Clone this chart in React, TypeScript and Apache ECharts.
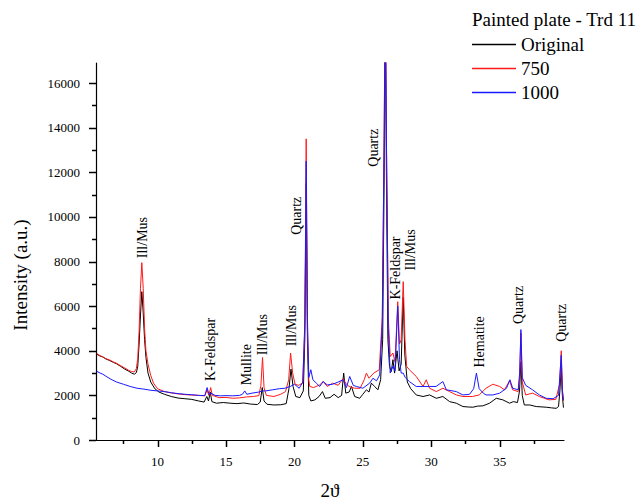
import React, { useEffect, useRef } from "react";
import * as echarts from "echarts";

// 2θ (deg), intensity (a.u.)
const originalData: number[][] = [
  [5.55,3850],[5.8,3760],[6.0,3720],[6.2,3640],[6.5,3560],[6.8,3470],[7.0,3420],[7.3,3300],[7.6,3180],[7.9,3080],[8.1,3000],[8.3,2950],[8.45,3020],[8.55,3300],[8.65,4300],[8.75,5600],[8.85,6650],[8.95,5700],[9.05,4500],[9.15,3700],[9.3,3000],[9.5,2600],[9.8,2300],[10.1,2150],[10.5,2050],[11.0,1950],[11.5,1880],[12.0,1850],[12.5,1820],[13.0,1750],[13.4,1700],[13.6,1950],[13.72,1750],[13.85,2150],[13.97,1720],[14.3,1650],[14.8,1680],[15.3,1650],[15.8,1630],[16.3,1660],[16.8,1610],[17.3,1590],[17.5,1700],[17.65,2350],[17.78,1750],[18.0,1600],[18.5,1570],[19.0,1580],[19.4,1630],[19.6,2300],[19.75,3180],[19.9,2400],[20.1,1950],[20.4,1900],[20.65,2200],[20.76,4500],[20.86,11500],[20.95,4500],[21.05,2000],[21.2,1750],[21.5,1800],[21.8,1950],[22.05,2170],[22.25,1870],[22.6,1900],[22.9,2050],[23.2,1900],[23.45,2000],[23.6,3000],[23.75,2100],[24.0,2150],[24.17,2400],[24.4,1950],[24.77,1870],[25.0,2050],[25.26,2250],[25.45,2150],[25.62,2550],[25.86,2400],[26.1,2250],[26.3,2700],[26.45,4500],[26.56,12000],[26.64,19000],[26.72,12000],[26.83,4500],[26.95,3300],[27.08,3070],[27.2,3600],[27.32,3000],[27.5,4000],[27.65,3100],[27.8,3400],[27.95,6400],[28.07,3800],[28.25,2600],[28.5,2300],[28.9,2020],[29.4,1950],[29.88,2020],[30.37,1870],[30.85,1950],[31.34,1720],[31.83,1650],[32.31,1500],[32.7,1480],[33.04,1470],[33.4,1520],[33.77,1530],[34.26,1650],[34.75,1870],[35.23,1800],[35.72,1650],[36.0,1720],[36.3,1680],[36.45,2200],[36.55,3500],[36.65,2000],[36.8,1570],[37.2,1570],[37.67,1500],[38.4,1470],[38.8,1440],[39.13,1420],[39.3,1500],[39.4,2200],[39.5,3300],[39.58,2000],[39.66,1450]
];

const data750: number[][] = [
  [5.55,3880],[5.8,3780],[6.0,3730],[6.2,3650],[6.5,3590],[6.8,3490],[7.0,3440],[7.3,3330],[7.6,3230],[7.9,3120],[8.1,3070],[8.3,3050],[8.45,3200],[8.55,3650],[8.65,4900],[8.75,6800],[8.85,7950],[8.95,6800],[9.05,5000],[9.15,4000],[9.3,3400],[9.5,2900],[9.7,2550],[10.0,2300],[10.5,2170],[11.0,2110],[11.7,2050],[12.3,2020],[13.0,2000],[13.45,1980],[13.62,2250],[13.74,2000],[13.88,2350],[14.0,2000],[14.5,1900],[15.0,1910],[15.5,1870],[16.0,1890],[16.5,1930],[17.0,1950],[17.4,1990],[17.55,2450],[17.67,3700],[17.78,2350],[17.95,2000],[18.5,1950],[19.0,2050],[19.35,2170],[19.58,2700],[19.72,3900],[19.87,3000],[20.05,2500],[20.3,2450],[20.6,2550],[20.76,5000],[20.86,13500],[20.95,5000],[21.05,2700],[21.12,2400],[21.4,2350],[21.85,2470],[22.1,2620],[22.4,2400],[22.8,2550],[23.2,2450],[23.55,2750],[23.8,2500],[24.0,2400],[24.4,2320],[24.8,2320],[25.1,2700],[25.26,3000],[25.45,2770],[25.8,3000],[26.2,3150],[26.42,5500],[26.55,13000],[26.64,21000],[26.73,13000],[26.86,5500],[27.0,3740],[27.2,3900],[27.35,3500],[27.55,6200],[27.68,4300],[27.8,4500],[27.95,7100],[28.08,4500],[28.2,3300],[28.4,3150],[28.9,2850],[29.4,2400],[29.63,2700],[29.88,2320],[30.37,2170],[30.85,2320],[31.34,2170],[31.83,2020],[32.31,1950],[33.0,1950],[33.5,2020],[34.0,2320],[34.5,2500],[35.0,2400],[35.35,2250],[35.72,2650],[35.95,2250],[36.35,2170],[36.46,2800],[36.55,4800],[36.65,2600],[36.9,2020],[37.4,2100],[37.9,1950],[38.6,1800],[39.1,1820],[39.38,2500],[39.5,4000],[39.58,2300],[39.66,1750]
];

const data1000: number[][] = [
  [5.55,3080],[5.8,3000],[6.0,2950],[6.3,2830],[6.6,2720],[7.0,2600],[7.5,2500],[8.0,2400],[8.5,2320],[9.0,2280],[9.5,2230],[10.0,2200],[10.5,2170],[11.0,2120],[11.5,2080],[12.0,2050],[12.5,2030],[13.0,2000],[13.45,1990],[13.62,2350],[13.75,2050],[13.9,2100],[14.2,2000],[14.6,1980],[15.0,1990],[15.5,1980],[16.0,2000],[16.2,2050],[16.37,2200],[16.52,2050],[16.9,2100],[17.4,2150],[17.67,2200],[17.9,2200],[18.4,2250],[18.9,2300],[19.3,2320],[19.7,2400],[20.0,2500],[20.35,2320],[20.62,2600],[20.77,5500],[20.86,12500],[20.95,5500],[21.05,2800],[21.2,3150],[21.35,2700],[21.6,2550],[21.85,2400],[22.1,2620],[22.4,2470],[22.8,2500],[23.2,2600],[23.55,2700],[23.8,2350],[24.04,2850],[24.3,2450],[24.53,2400],[25.0,2320],[25.5,2550],[25.74,2770],[26.0,2650],[26.23,2920],[26.42,5200],[26.55,13000],[26.64,20000],[26.73,13000],[26.86,5000],[27.0,3000],[27.2,3300],[27.35,3100],[27.55,6000],[27.68,3600],[27.8,3000],[27.95,3000],[28.1,2800],[28.4,2620],[28.9,2400],[29.4,2400],[29.88,2400],[30.35,2400],[30.85,2620],[31.1,2250],[31.83,2170],[32.31,2020],[32.8,2050],[33.1,2300],[33.3,3000],[33.5,2300],[33.8,2100],[34.0,2020],[34.5,2020],[35.0,2100],[35.5,2320],[35.75,2700],[35.95,2320],[36.35,2250],[36.46,3000],[36.55,4950],[36.65,2800],[36.9,2450],[37.4,2250],[37.9,2020],[38.4,1870],[38.9,1850],[39.3,2000],[39.5,3800],[39.58,2200],[39.66,1800]
];

const seriesNames = ["Original", "750", "1000"];
const xMajorTicks = [10, 15, 20, 25, 30, 35];
const xMinorTicks = [7.5, 12.5, 17.5, 22.5, 27.5, 32.5, 37.5];
const yMajorTicks = [0, 2000, 4000, 6000, 8000, 10000, 12000, 14000, 16000];
const yMinorTicks = [1000, 3000, 5000, 7000, 9000, 11000, 13000, 15000];

// peak annotations: 2θ, intensity where the text starts, label
const annotX = [8.9, 13.85, 16.5, 17.7, 19.8, 20.15, 25.75, 27.4, 28.45, 33.5, 36.4, 39.55];
const annotY = [8150, 2650, 2450, 3800, 4200, 9200, 12250, 6300, 7600, 3250, 5200, 4400];
const annotText = ["Ill/Mus", "K-Feldspar", "Mullite", "Ill/Mus", "Ill/Mus", "Quartz", "Quartz", "K-Feldspar", "Ill/Mus", "Hematite", "Quartz", "Quartz"];

const FONT = "'Liberation Serif', 'Times New Roman', serif";

export default function App() {
  const ref = useRef<HTMLDivElement>(null);
  useEffect(() => {
    if (!ref.current) return;
    const chart = echarts.init(ref.current, undefined, { renderer: "svg" });
    const xMin = 5.5, xMax = 39.7, yMin = 0, yMax = 16900;
    const labelFmt = (v: number) => String(Math.round(v * 100) / 100);
    const option: any = {
      animation: false,
      backgroundColor: "#fff",
      textStyle: { fontFamily: FONT },
      title: {
        text: "Painted plate - Trd 11",
        left: 472,
        top: 10,
        padding: 0,
        textStyle: { fontFamily: FONT, fontSize: 19, fontWeight: "normal", color: "#000" },
      },
      legend: {
        orient: "vertical",
        left: 472,
        top: 35,
        padding: 0,
        itemGap: 5,
        itemWidth: 44,
        itemHeight: 1.5,
        icon: "rect",
        data: seriesNames,
        textStyle: { fontFamily: FONT, fontSize: 19, color: "#000", lineHeight: 19 },
      },
      grid: { left: 96, right: 80, top: 63, bottom: 60, containLabel: false, outerBoundsMode: "none" },
      xAxis: {
        type: "value",
        min: xMin,
        max: xMax,
        minInterval: 5,
        maxInterval: 5,
        name: "2ϑ",
        nameLocation: "middle",
        nameGap: 41,
        nameTextStyle: { fontFamily: FONT, fontSize: 19, color: "#000", verticalAlign: "top" },
        axisLine: { show: true, onZero: false, lineStyle: { color: "#000", width: 1.2 } },
        axisTick: { show: false },
        axisLabel: { showMinLabel: false, showMaxLabel: false, formatter: labelFmt, margin: 15, fontFamily: FONT, fontSize: 13, color: "#000" },
        splitLine: { show: false },
      },
      yAxis: {
        type: "value",
        min: yMin,
        max: yMax,
        interval: 2000,
        axisLine: { show: true, onZero: false, lineStyle: { color: "#000", width: 1.2 } },
        axisTick: { show: false },
        axisLabel: { showMaxLabel: false, formatter: labelFmt, margin: 16, fontFamily: FONT, fontSize: 13, color: "#000" },
        splitLine: { show: false },
      },
      series: [
        { name: seriesNames[0], type: "line", data: originalData, color: "#000000" },
        { name: seriesNames[1], type: "line", data: data750, color: "#ff1a1a" },
        { name: seriesNames[2], type: "line", data: data1000, color: "#1a1aff" },
      ].map((s) => ({
        ...s,
        showSymbol: false,
        symbol: "none",
        clip: true,
        lineStyle: { width: 1, color: s.color },
        itemStyle: { color: s.color },
      })),
    };
    chart.setOption(option);

    const toPx = (x: number, y: number) => chart.convertToPixel({ xAxisIndex: 0, yAxisIndex: 0 }, [x, y]) as number[];
    const snap = (v: number) => Math.round(v) + 0.5;
    const graphics: any[] = [];
    const xTick = (v: number, len: number) => {
      const p = toPx(v, yMin);
      const x = snap(p[0]);
      graphics.push({ type: "line", z: 100, shape: { x1: x, y1: p[1], x2: x, y2: p[1] + len }, style: { stroke: "#000", lineWidth: 1.5 } });
    };
    const yTick = (v: number, len: number) => {
      const p = toPx(xMin, v);
      const y = snap(p[1]);
      graphics.push({ type: "line", z: 100, shape: { x1: p[0], y1: y, x2: p[0] - len, y2: y }, style: { stroke: "#000", lineWidth: 1.5 } });
    };
    xMajorTicks.forEach((v) => xTick(v, 7));
    xMinorTicks.forEach((v) => xTick(v, 4));
    yMajorTicks.forEach((v) => yTick(v, 7));
    yMinorTicks.forEach((v) => yTick(v, 4));

    annotText.forEach((t, i) => {
      const p = toPx(annotX[i], annotY[i]);
      graphics.push({
        type: "text",
        x: p[0],
        y: p[1],
        rotation: Math.PI / 2,
        style: { text: t, fill: "#000", font: `14px ${FONT}`, align: "left", verticalAlign: "middle" },
      });
    });
    graphics.push({
      type: "text",
      x: 20,
      y: 275,
      rotation: Math.PI / 2,
      style: { text: "Intensity (a.u.)", fill: "#000", font: `19px ${FONT}`, align: "center", verticalAlign: "middle" },
    });
    chart.setOption({ graphic: graphics });

    return () => chart.dispose();
  }, []);
  return <div ref={ref} style={{ position: "absolute", left: 0, top: 0, width: 644, height: 500 }} />;
}
